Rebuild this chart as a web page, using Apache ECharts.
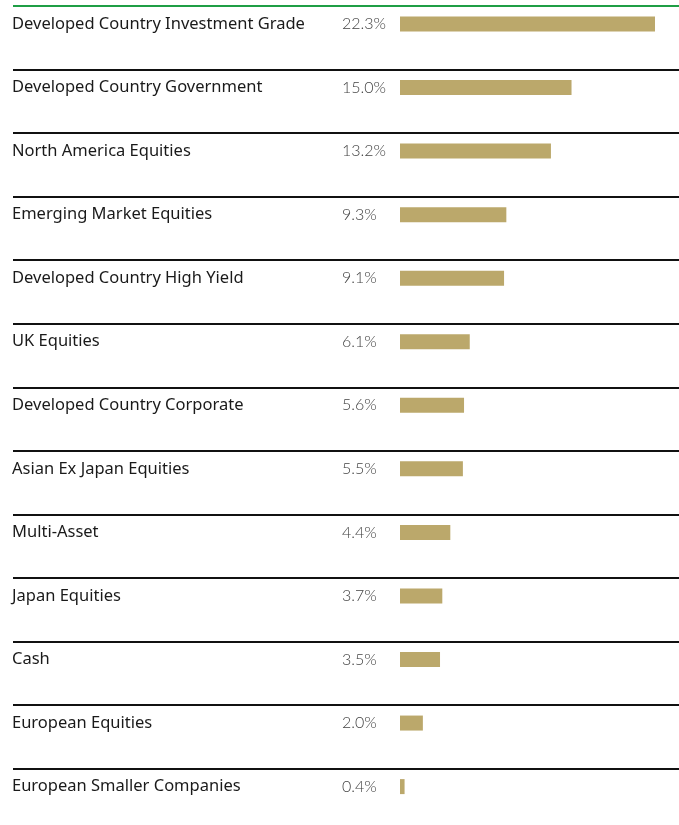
<!DOCTYPE html>
<html>
<head>
<meta charset="utf-8">
<script src="https://cdn.jsdelivr.net/npm/echarts@6/dist/echarts.min.js"></script>
<style>
  html, body { margin: 0; padding: 0; background: #fff; }
  #chart { width: 679px; height: 825px; }
</style>
</head>
<body>
<div id="chart"></div>
<script>
// Asset allocation breakdown, largest first
const categories = [
  'Developed Country Investment Grade',
  'Developed Country Government',
  'North America Equities',
  'Emerging Market Equities',
  'Developed Country High Yield',
  'UK Equities',
  'Developed Country Corporate',
  'Asian Ex Japan Equities',
  'Multi-Asset',
  'Japan Equities',
  'Cash',
  'European Equities',
  'European Smaller Companies'
];
const weights = [22.3, 15.0, 13.2, 9.3, 9.1, 6.1, 5.6, 5.5, 4.4, 3.7, 3.5, 2.0, 0.4];

const ROW = 63.55;
const N = categories.length;
// separator rules above each row: first one green, the rest black
const ruleColors = ['#1f9e45'].concat(new Array(N).fill('#111'));

const chart = echarts.init(document.getElementById('chart'));
chart.setOption({
  animation: false,
  grid: [
    // bar rows: first row centre at the top edge, last at the bottom edge
    { left: 400, width: 24 * 11.435, top: 24, height: ROW * (N - 1) },
    // separator rules
    { left: 13, right: 0, top: 6, height: ROW * (N - 1) }
  ],
  xAxis: [
    { type: 'value', gridIndex: 0, min: 0, max: 24, show: false },
    { type: 'value', gridIndex: 1, min: 0, max: 1, show: false }
  ],
  yAxis: [
    {
      type: 'category', gridIndex: 0, data: categories, inverse: true, boundaryGap: false,
      axisLine: { show: false }, axisTick: { show: false }, splitLine: { show: false },
      axisLabel: {
        align: 'left', margin: 388,
        fontFamily: 'Noto Sans', fontSize: 16.5, color: '#1a1a1a'
      }
    },
    {
      type: 'value', gridIndex: 1, inverse: true, min: 0, max: N - 1, interval: 1,
      axisLine: { show: false }, axisTick: { show: false }, axisLabel: { show: false },
      splitLine: { show: true, showMinLine: true, showMaxLine: true, lineStyle: { color: ruleColors, width: 2 } }
    }
  ],
  series: [
    {
      type: 'bar', xAxisIndex: 0, yAxisIndex: 0, data: weights,
      barWidth: 15,
      itemStyle: { color: '#bba86b' },
      label: {
        show: true,
        position: [-58, '50%'],
        align: 'left', verticalAlign: 'middle',
        formatter: p => p.value.toFixed(1) + '%',
        fontFamily: 'Lato', fontWeight: 300, fontSize: 16, color: '#444'
      }
    }
  ]
});
</script>
</body>
</html>
